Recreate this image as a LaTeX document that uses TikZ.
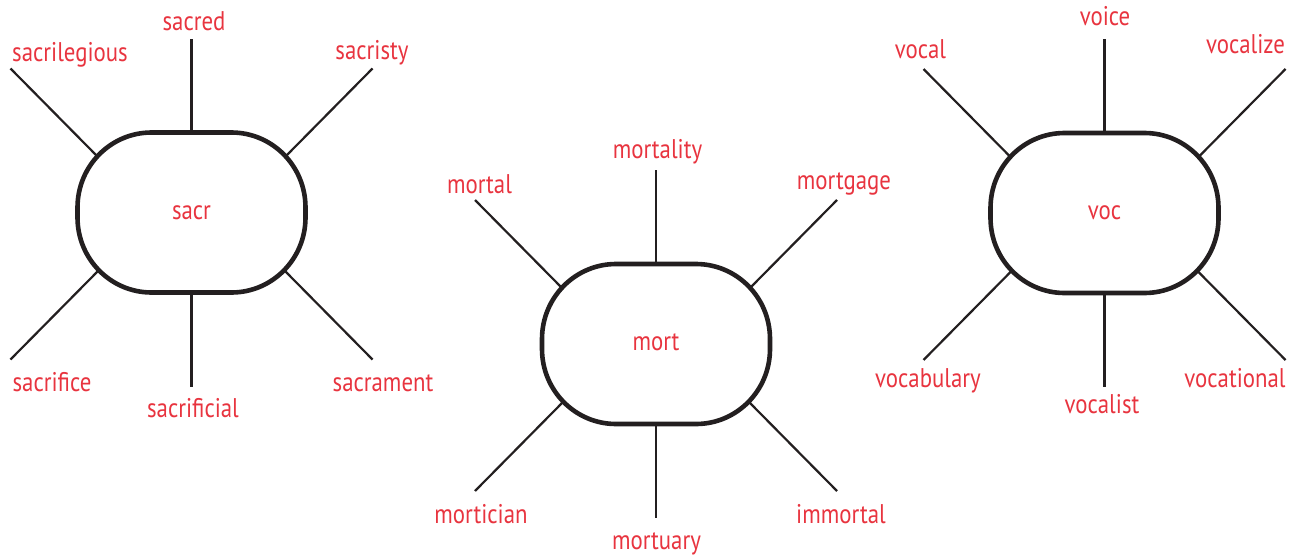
\documentclass[tikz,border=0pt]{standalone}
\usepackage{fontspec}
\setmainfont{PT Sans}[FakeStretch=0.845]
\usetikzlibrary{calc}
\definecolor{wordred}{HTML}{E8343F}
\definecolor{ink}{HTML}{231F20}
\newcommand\hubspokes[1]{%
  \path (#1.center) ++(-95,-57) coordinate (#1-a1) ++(-86,-87) coordinate (#1-a2)
        (#1.center) ++(0,-80) coordinate (#1-b1) ++(0,-94) coordinate (#1-b2)
        (#1.center) ++(95,-57) coordinate (#1-c1) ++(86,-87) coordinate (#1-c2)
        (#1.center) ++(-94,59) coordinate (#1-d1) ++(-87,88) coordinate (#1-d2)
        (#1.center) ++(0,80) coordinate (#1-e1) ++(0,94) coordinate (#1-e2)
        (#1.center) ++(94,59) coordinate (#1-f1) ++(87,88) coordinate (#1-f2);
  \foreach \k in {a,b,c,d,e,f} \draw[spoke] (#1-\k1) -- (#1-\k2);}
\newcommand\hubrim[1]{%
  \draw[rim] ($(#1.center)+(-40,-80)$) -- ($(#1.center)+(40,-80)$)
    arc[start angle=-90,end angle=0,x radius=74,y radius=75]
    -- ($(#1.center)+(114,5)$)
    arc[start angle=0,end angle=90,x radius=74,y radius=75]
    -- ($(#1.center)+(-40,80)$)
    arc[start angle=90,end angle=180,x radius=74,y radius=75]
    -- ($(#1.center)+(-114,-5)$)
    arc[start angle=180,end angle=270,x radius=74,y radius=75] -- cycle;}
\begin{document}
\begin{tikzpicture}[x=1pt,y=-1pt,
  word/.style={text=wordred, font=\fontsize{27}{30}\selectfont, anchor=base, inner sep=0pt},
  hub/.style={text=wordred, font=\fontsize{27}{30}\selectfont, anchor=center, inner sep=0pt,
    text height=13pt, text depth=0pt, minimum width=228pt, minimum height=160pt},
  rim/.style={draw=ink, line width=4.6pt},
  spoke/.style={draw=ink, line width=2.2pt}]
\useasboundingbox (0,0) rectangle (1290,557);
% hubs
\node[hub] (sacr) at (191.5,212.5) {sacr};
\node[hub] (mort) at (656,344) {mort};
\node[hub] (voc) at (1104.5,213) {voc};
\hubspokes{sacr}\hubspokes{mort}\hubspokes{voc}
\hubrim{sacr}\hubrim{mort}\hubrim{voc}
% left words
\node[word] (w-sacrilegious) at (70,61) {sacrilegious};
\node[word] (w-sacred) at (194,30) {sacred};
\node[word] (w-sacristy) at (372,59) {sacristy};
\node[word] (w-sacrifice) at (52,391) {sacrifice};
\node[word] (w-sacrificial) at (193,417) {sacrificial};
\node[word] (w-sacrament) at (383,391) {sacrament};
% middle words
\node[word] (w-mortal) at (479.5,193) {mortal};
\node[word] (w-mortality) at (657.5,158) {mortality};
\node[word] (w-mortgage) at (844,189) {mortgage};
\node[word] (w-mortician) at (481,523) {mortician};
\node[word] (w-mortuary) at (656.5,549) {mortuary};
\node[word] (w-immortal) at (841,523) {immortal};
% right words
\node[word] (w-vocal) at (920.5,58) {vocal};
\node[word] (w-voice) at (1105,25) {voice};
\node[word] (w-vocalize) at (1245.5,53) {vocalize};
\node[word] (w-vocabulary) at (928,387) {vocabulary};
\node[word] (w-vocalist) at (1102,413) {vocalist};
\node[word] (w-vocational) at (1235,387) {vocational};
\end{tikzpicture}
\end{document}
